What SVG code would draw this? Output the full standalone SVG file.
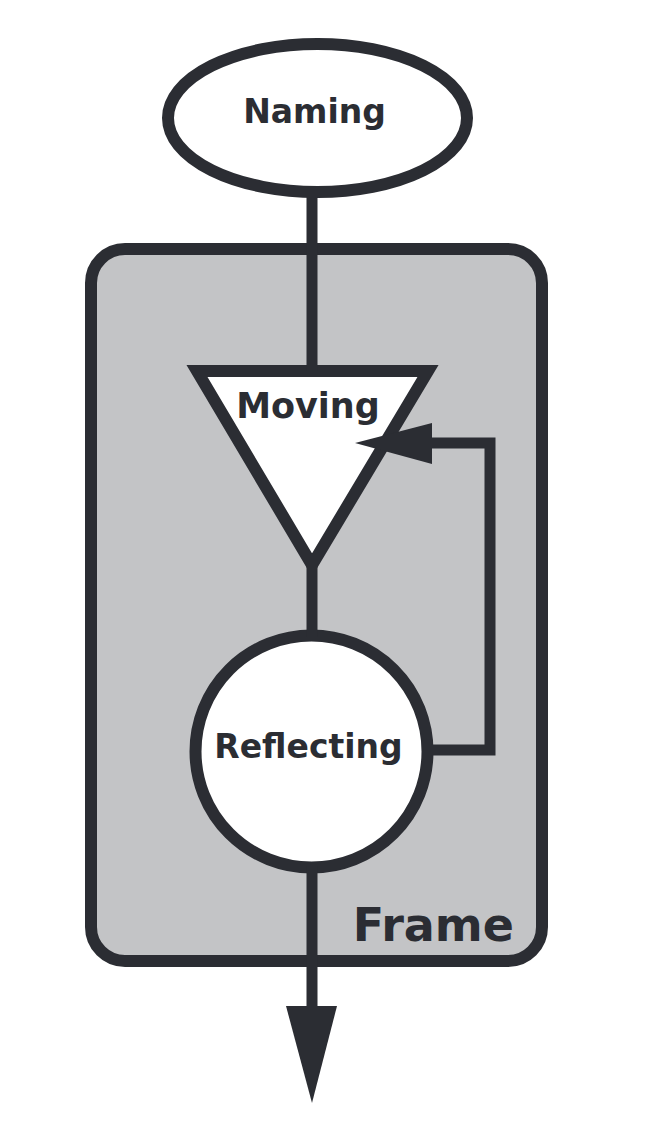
<svg xmlns="http://www.w3.org/2000/svg" width="670" height="1142" viewBox="0 0 670 1142">
<style>
.s{stroke:#2b2d33;stroke-width:12;}
.w{fill:#ffffff;}
.t{font-family:"DejaVu Sans",sans-serif;font-weight:bold;fill:#2b2d33;text-anchor:middle;}
.c{fill:none;stroke:#2b2d33;stroke-width:11;}
.h{fill:#2b2d33;}
</style>
<rect width="670" height="1142" fill="#ffffff"/>
<g id="frame">
<rect class="s" x="91" y="249" width="451" height="712" rx="34" fill="#c3c4c6"/>
<text class="t" x="514" y="941" style="text-anchor:end;font-size:46px">Frame</text>
</g>
<g id="naming">
<ellipse class="s w" cx="317.5" cy="118" rx="149.5" ry="74"/>
<text class="t" x="314.5" y="123" style="font-size:33px">Naming</text>
</g>
<g id="moving">
<polygon class="s w" points="197,371 428,371 312,565" stroke-linejoin="miter"/>
<text class="t" x="308" y="418" style="font-size:35px">Moving</text>
</g>
<g id="reflecting">
<circle class="s w" cx="311.5" cy="751.5" r="116"/>
<text class="t" x="308.5" y="758" style="font-size:33px">Reflecting</text>
</g>
<g id="connectors">
<line class="c" x1="312" y1="196" x2="312" y2="371"/>
<line class="c" x1="312" y1="566" x2="312" y2="637"/>
<line class="c" x1="312" y1="866" x2="312" y2="1010"/>
<polygon class="h" points="286,1006 337,1006 312,1103"/>
<polyline class="c" points="431,750 490,750 490,443 425,443"/>
<polygon class="h" points="355,443 432,423 432,464"/>
</g>
</svg>
